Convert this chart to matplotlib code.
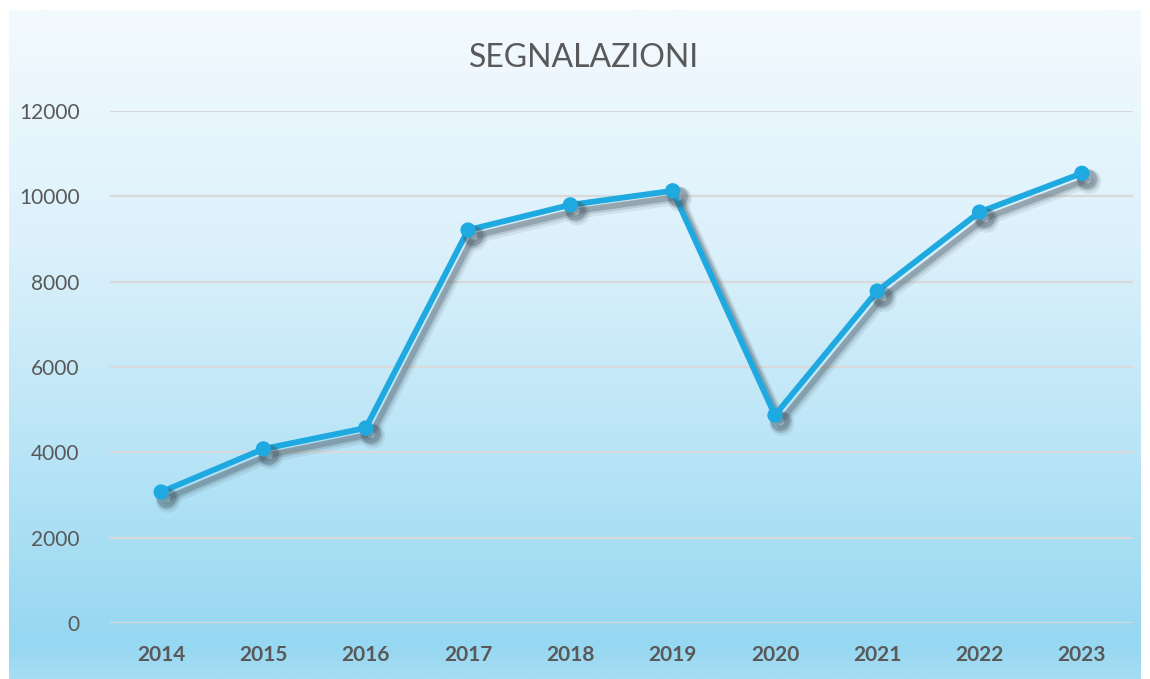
import matplotlib
matplotlib.use("Agg")
import matplotlib.pyplot as plt
import matplotlib.patheffects as pe
import numpy as np
from matplotlib.colors import LinearSegmentedColormap

# data
years = ["2014", "2015", "2016", "2017", "2018", "2019", "2020", "2021", "2022", "2023"]
segnalazioni = [3070, 4080, 4570, 9210, 9800, 10130, 4870, 7780, 9630, 10540]
y_ticks = [0, 2000, 4000, 6000, 8000, 10000, 12000]

title = "SEGNALAZIONI"
line_color = "#1fa9e1"
text_color = "#595959"

plt.rcParams['font.family'] = ['Lato', 'DejaVu Sans']

fig = plt.figure(figsize=(11.5, 6.79), dpi=100)
fig.patch.set_facecolor("white")

# gradient background of the chart area
bg = fig.add_axes([9 / 1150, 0, 1132 / 1150, 669 / 679], zorder=0)
grad = LinearSegmentedColormap.from_list(
    "bg", [(0.0, "#f3fafe"), (0.35, "#dcf1fb"), (0.7, "#b4e3f6"),
           (0.95, "#96d7f1"), (1.0, "#a6ddf3")])
bg.imshow(np.linspace(0, 1, 256).reshape(-1, 1), aspect="auto", cmap=grad,
          extent=[0, 1, 0, 1], origin="upper")
bg.set_axis_off()

ax = fig.add_axes([110 / 1150, 56 / 679, 1023 / 1150, 512 / 679], zorder=1)
ax.patch.set_alpha(0)

x = np.arange(len(years))
shadow = [
    pe.SimpleLineShadow(offset=(5, -6), shadow_color="#4a5a66", alpha=0.10, linewidth=8),
    pe.SimpleLineShadow(offset=(4.5, -5), shadow_color="#4a5a66", alpha=0.18, linewidth=6),
    pe.SimpleLineShadow(offset=(4, -4.5), shadow_color="#3a4a55", alpha=0.28, linewidth=4),
    pe.Normal(),
]
ax.plot(x, segnalazioni, color=line_color, linewidth=4.2, marker="o",
        markersize=10, solid_capstyle="round", path_effects=shadow, zorder=3)

ax.set_xlim(-0.5, len(years) - 0.5)
ax.set_ylim(0, 12000)
ax.set_yticks(y_ticks)
ax.set_yticklabels([str(v) for v in y_ticks])
ax.set_xticks(x)
ax.set_xticklabels(years, fontweight="bold")
ax.tick_params(axis="both", length=0, labelsize=15, labelcolor=text_color)
ax.tick_params(axis="y", pad=22)
ax.tick_params(axis="x", pad=16)
ax.grid(axis="y", color="#d9d9d9", linewidth=1.6)
ax.set_axisbelow(True)
for s in ax.spines.values():
    s.set_visible(False)

fig.text(584 / 1150, 1 - 58 / 679, title, ha="center", va="center",
         fontsize=23, color=text_color)

fig.savefig("out.png", dpi=100)
